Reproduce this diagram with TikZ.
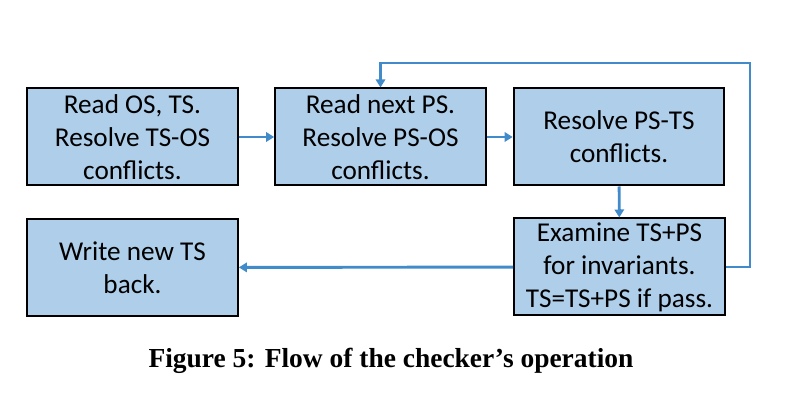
\documentclass[tikz,border=0pt]{standalone}
\usepackage{fontspec}
\setmainfont{Carlito}
\newfontfamily\capfont{Liberation Serif}
\usetikzlibrary{arrows.meta}

\definecolor{boxfill}{RGB}{174,206,234}
\definecolor{flowline}{RGB}{66,139,202}

\tikzset{
  stepbox/.style={draw=black, line width=1.5pt, fill=boxfill,
    minimum width=158pt, minimum height=72.75pt, inner sep=0pt,
    align=center, font=\fontsize{20.4}{24.75}\selectfont},
  flow/.style={draw=flowline, line width=2.2pt,
    -{Triangle[length=6pt,width=7pt]}}
}

\begin{document}
\begin{tikzpicture}[x=0.75pt, y=-0.75pt]

\useasboundingbox (0,0) rectangle (800,420);

% top row
\node[stepbox] (reados) at (132.5,137) {Read OS, TS.\\Resolve TS-OS\\conflicts.};
\node[stepbox] (readps) at (380.5,137) {Read next PS.\\Resolve PS-OS\\conflicts.};
\node[stepbox] (pstsres) at (619,137) {Resolve PS-TS\\conflicts.};

% bottom row
\node[stepbox] (writets) at (132.5,267.5) {Write new TS\\back.};
\node[stepbox] (examine) at (619.5,267) {Examine TS+PS\\for invariants.\\TS=TS+PS if pass.};

\coordinate (loopR) at (750,63);

\draw[flow] (reados) -- (readps);
\draw[flow] (readps) -- (pstsres);
\draw[flow] (pstsres) -- (examine);
\draw[flow] (examine) -- (writets);
\draw[flow] (examine.east) -| (loopR) -| (readps.north);

\node[anchor=base, font=\capfont\bfseries\fontsize{20.6}{24}\selectfont]
  (caption) at (391,368) {Figure 5: Flow of the checker’s operation};

\end{tikzpicture}
\end{document}
